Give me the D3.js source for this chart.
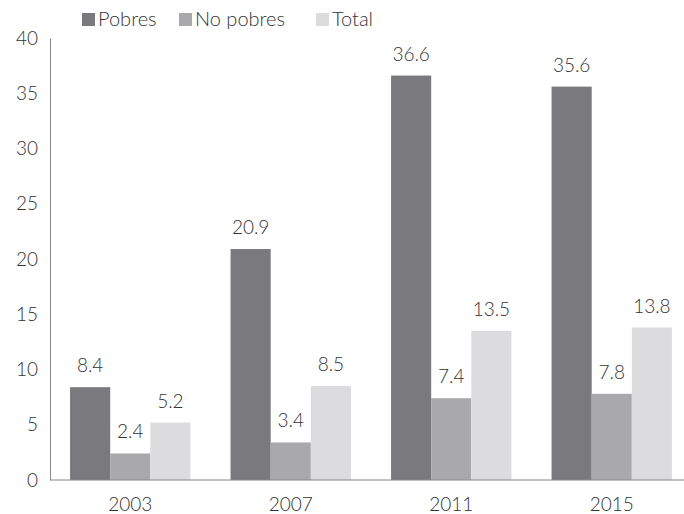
<!DOCTYPE html>
<html><head><meta charset="utf-8">
<script src="https://cdn.jsdelivr.net/npm/d3@7"></script>
<style>body{margin:0;background:#fff;} text{font-family:"Lato","Open Sans",sans-serif;font-weight:300;fill:#333;}</style>
</head><body><svg id="c" width="684" height="514"></svg>
<script>
const years = ["2003","2007","2011","2015"];
const seriesNames = ["Pobres","No pobres","Total"];
const pobres = [8.4, 20.9, 36.6, 35.6];
const noPobres = [2.4, 3.4, 7.4, 7.8];
const total = [5.2, 8.5, 13.5, 13.8];
const yTicks = [0,5,10,15,20,25,30,35,40];
const colors = ["#7a7a7e","#a9a9ac","#dcdcde"];

const svg = d3.select("#c");
const seriesVals = [pobres, noPobres, total];
const x0 = d3.scaleBand().domain(years).range([50, 692]).paddingInner(0.25).paddingOuter(0.125);
const x1 = d3.scaleBand().domain(seriesNames).range([0, x0.bandwidth()]);
const y = d3.scaleLinear().domain([0,40]).range([480, 38]);

// bars
years.forEach((yr, i) => {
  seriesNames.forEach((s, j) => {
    const v = seriesVals[j][i];
    svg.append("rect").attr("x", x0(yr)+x1(s)).attr("y", y(v))
      .attr("width", x1.bandwidth()).attr("height", y(0)-y(v)).attr("fill", colors[j]);
    svg.append("text").attr("x", x0(yr)+x1(s)+x1.bandwidth()/2).attr("y", y(v)-15)
      .attr("text-anchor","middle").attr("font-size", 19).text(v.toFixed(1));
  });
});

// y axis
const ya = svg.append("g").attr("transform","translate(50,0)")
  .call(d3.axisLeft(y).tickValues(yTicks).tickSize(0).tickPadding(12));
ya.select(".domain").attr("stroke","#888");
ya.selectAll("text").attr("font-size",19).attr("font-family","Lato").attr("font-weight",300).attr("fill","#333");

// x axis
const xa = svg.append("g").attr("transform","translate(0,480)")
  .call(d3.axisBottom(x0).tickSize(0).tickPadding(18));
xa.select(".domain").attr("stroke","#888").attr("d","M50,0H684");
xa.selectAll("text").attr("font-size",19).attr("font-family","Lato").attr("font-weight",300).attr("fill","#333");

// legend
const legX = [82, 179, 316];
seriesNames.forEach((s, j) => {
  svg.append("rect").attr("x", legX[j]).attr("y", 13).attr("width", 13).attr("height", 13).attr("fill", colors[j]);
  svg.append("text").attr("x", legX[j]+16).attr("y", 26).attr("font-size", 20).text(s);
});
</script></body></html>
